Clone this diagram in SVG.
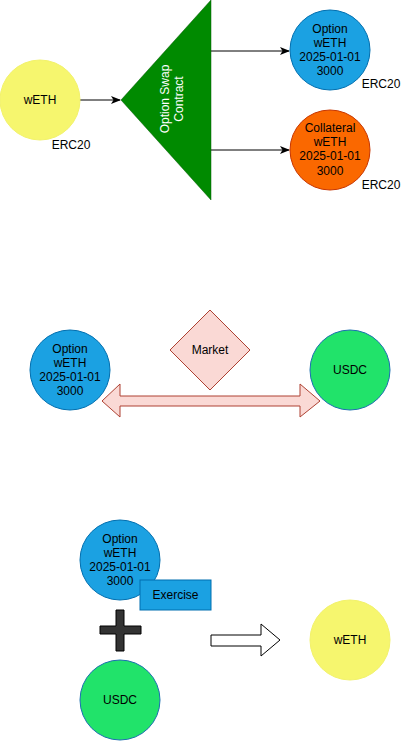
<svg xmlns="http://www.w3.org/2000/svg" width="411" height="741" viewBox="0 0 411 741">
<defs>
<style>
text{font-family:"Liberation Sans",Arial,Helvetica,sans-serif;font-size:12px;fill:#000;text-anchor:middle;dominant-baseline:central}
.yel{fill:#f6f66e;stroke:#f2f26a}
.blue{fill:#1ba1e2;stroke:#006eaf}
.orange{fill:#fa6800;stroke:#c73500}
.green{fill:#21e36a;stroke:#1b6fb0}
.edge{stroke:#000;stroke-width:1;fill:none}
</style>
<marker id="arr" viewBox="0 0 10 10" refX="9" refY="5" markerWidth="10" markerHeight="10" markerUnits="userSpaceOnUse" orient="auto">
<path d="M0,1 L10,5 L0,9 L2.5,5 Z" fill="#000"/>
</marker>
</defs>
<g id="connectors">
<line class="edge" x1="80" y1="100" x2="120" y2="100" marker-end="url(#arr)"/>
<line class="edge" x1="211" y1="51" x2="289" y2="51" marker-end="url(#arr)"/>
<line class="edge" x1="211" y1="150" x2="289" y2="150" marker-end="url(#arr)"/>
<path d="M102,401 L120,384 L120,396 L300,396 L300,384 L320,401 L300,417 L300,406 L120,406 L120,417 Z" fill="#fad9d5" stroke="#ae4132"/>
<path d="M211,635 L261,635 L261,624 L280,640 L261,656 L261,646 L211,646 Z" fill="#fff" stroke="#000"/>
</g>
<g id="weth1">
<circle class="yel" cx="40" cy="100" r="40"/>
<text x="40" y="100">wETH</text>
<text x="71" y="145">ERC20</text>
</g>
<g id="contract">
<path d="M121,100 L211,0 L211,200 Z" fill="#008a00" stroke="#005700" stroke-width="0.5"/>
<text transform="translate(171.5,99) rotate(-90)" style="fill:#fff"><tspan x="0" dy="-7">Option Swap</tspan><tspan x="0" dy="14">Contract</tspan></text>
</g>
<g id="option1">
<circle class="blue" cx="330" cy="50" r="40"/>
<text x="330" y="29">Option</text>
<text x="330" y="43">wETH</text>
<text x="330" y="57">2025-01-01</text>
<text x="330" y="71">3000</text>
<text x="381" y="84">ERC20</text>
</g>
<g id="collateral">
<circle class="orange" cx="330" cy="150" r="40"/>
<text x="330" y="128">Collateral</text>
<text x="330" y="142">wETH</text>
<text x="330" y="156">2025-01-01</text>
<text x="330" y="171">3000</text>
<text x="381" y="185">ERC20</text>
</g>
<g id="option2">
<circle class="blue" cx="70" cy="370" r="40"/>
<text x="70" y="349">Option</text>
<text x="70" y="363">wETH</text>
<text x="70" y="377">2025-01-01</text>
<text x="70" y="391">3000</text>
</g>
<g id="market">
<path d="M210,310 L250,350 L210,390 L170,350 Z" fill="#fad9d5" stroke="#ae4132"/>
<text x="210" y="350">Market</text>
</g>
<g id="usdc1">
<circle class="green" cx="350" cy="370" r="40"/>
<text x="350" y="370">USDC</text>
</g>
<g id="option3">
<circle class="blue" cx="120" cy="560" r="40"/>
<text x="120" y="539">Option</text>
<text x="120" y="553">wETH</text>
<text x="120" y="567">2025-01-01</text>
<text x="120" y="581">3000</text>
</g>
<g id="exercise">
<rect class="blue" x="140" y="580" width="71" height="30"/>
<text x="175.5" y="595">Exercise</text>
</g>
<g id="plus">
<path d="M116,610 L124,610 L124,626 L141,626 L141,634 L124,634 L124,651 L116,651 L116,634 L100,634 L100,626 L116,626 Z" fill="#333" stroke="#000"/>
</g>
<g id="weth2">
<circle class="yel" cx="350" cy="640" r="40"/>
<text x="350" y="640">wETH</text>
</g>
<g id="usdc2">
<circle class="green" cx="120" cy="700" r="40"/>
<text x="120" y="700">USDC</text>
</g>
</svg>
